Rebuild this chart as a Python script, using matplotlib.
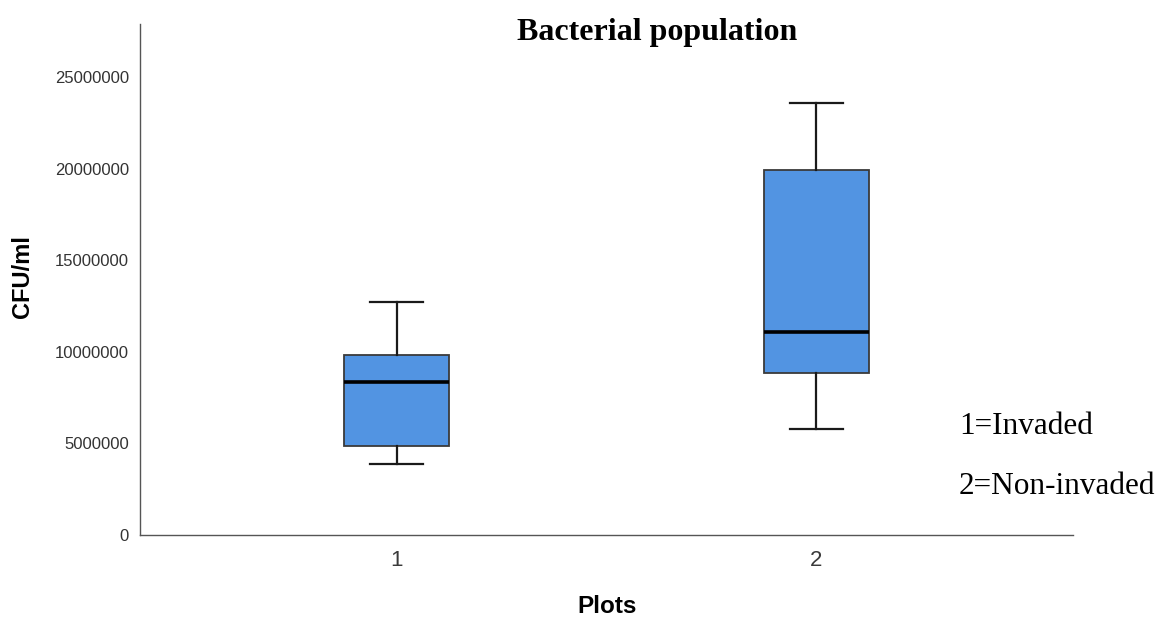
import matplotlib
matplotlib.use("Agg")
from matplotlib import pyplot as plt

# summary values per plot type (CFU/ml)
grupos = ["1", "2"]
minimo = [3.88e6, 5.79e6]
q1 = [4.86e6, 8.84e6]
mediana = [8.35e6, 11.08e6]
q3 = [9.83e6, 19.92e6]
maximo = [12.72e6, 23.58e6]
ticks_y = [0, 5000000, 10000000, 15000000, 20000000, 25000000]

stats = []
for i in range(len(grupos)):
    stats.append({"label": grupos[i], "whislo": minimo[i], "q1": q1[i], "med": mediana[i],
                  "q3": q3[i], "whishi": maximo[i], "fliers": []})

fig = plt.figure(figsize=(11.76, 6.21), dpi=100)
ax = fig.add_axes([0.119, 0.1385, 0.7934, 0.8229])

ax.bxp(stats, positions=[1, 2], widths=0.25, patch_artist=True,
       boxprops=dict(facecolor="#5294e2", edgecolor="#3a3a3a", linewidth=1.3),
       whiskerprops=dict(color="#1a1a1a", linewidth=1.6),
       capprops=dict(color="#1a1a1a", linewidth=1.6),
       medianprops=dict(color="black", linewidth=2.6),
       capwidths=0.125)

ax.set_xlim(0.389, 2.611)
ax.set_ylim(0, 27.9e6)
ax.set_yticks(ticks_y)
ax.set_yticklabels([str(t) for t in ticks_y], fontsize=12, color="#333333",
                   family="Liberation Sans")
ax.set_xticks([1, 2])
ax.set_xticklabels(grupos, fontsize=16, color="#3a3a3a", family="Liberation Sans")
ax.tick_params(length=0)
ax.tick_params(axis="y", pad=8)
ax.tick_params(axis="x", pad=11)

for lado in ["top", "right"]:
    ax.spines[lado].set_visible(False)
for lado in ["left", "bottom"]:
    ax.spines[lado].set_color("#555555")
    ax.spines[lado].set_linewidth(1.0)

fig.text(0.019, 0.554, "CFU/ml", fontsize=17, fontweight="bold", family="Liberation Sans",
         rotation=90, ha="center", va="center")
fig.text(0.516, 0.023, "Plots", fontsize=17.5, fontweight="bold", family="Liberation Sans",
         ha="center", va="center")

fig.text(0.559, 0.947, "Bacterial population", fontsize=23, fontweight="bold",
         family="Liberation Serif", ha="center", va="center")
fig.text(0.8155, 0.314, "1=Invaded", fontsize=22.5, family="Liberation Serif", va="center")
fig.text(0.8155, 0.216, "2=Non-invaded", fontsize=22.5, family="Liberation Serif", va="center")

plt.savefig("out.png", dpi=100)
